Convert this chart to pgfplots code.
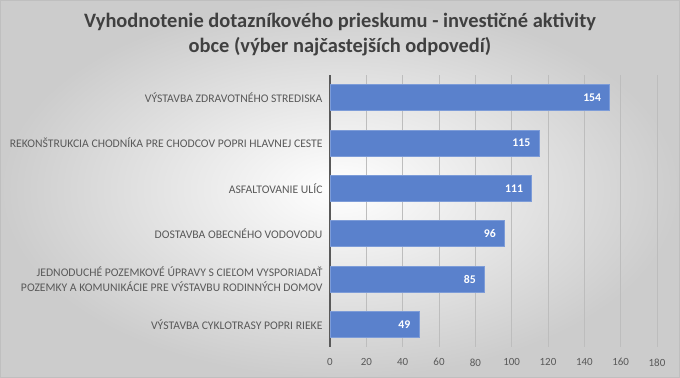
\documentclass[border=0pt]{standalone}
\usepackage{pgfplots}
\pgfplotsset{compat=1.18}
\usepackage{fontspec}
\setmainfont{Carlito}
\definecolor{barblue}{HTML}{5A81CC}
\definecolor{baredge}{HTML}{7D9CD8}
\definecolor{txtgray}{HTML}{595959}
\definecolor{titlegray}{HTML}{404040}
\definecolor{gridgray}{HTML}{BDBDBD}
\begin{document}
\begin{tikzpicture}
\shade[inner color=white, outer color=black!20] (0,0) rectangle (680bp,378bp);
\draw[black!25, line width=0.8bp] (0.4bp,0.4bp) rectangle (679.6bp,377.6bp);
\node[font=\fontsize{20.5}{25}\selectfont\bfseries, text=titlegray, align=center] at (340bp,343bp)
  {Vyhodnotenie dotazníkového prieskumu - investičné aktivity\\obce (výber najčastejších odpovedí)};
\begin{axis}[
  at={(330bp,31bp)}, anchor=south west, scale only axis,
  width=327bp, height=272bp,
  xbar, bar width=26bp,
  xmin=0, xmax=180, ymin=-0.5, ymax=5.5, y dir=reverse,
  xtick={0,20,...,180}, ytick={0,1,2,3,4,5},
  yticklabels={VÝSTAVBA ZDRAVOTNÉHO STREDISKA,
    REKONŠTRUKCIA CHODNÍKA PRE CHODCOV POPRI HLAVNEJ CESTE,
    ASFALTOVANIE ULÍC,
    DOSTAVBA OBECNÉHO VODOVODU,
    {JEDNODUCHÉ POZEMKOVÉ ÚPRAVY S CIEĽOM VYSPORIADAŤ\\POZEMKY A KOMUNIKÁCIE PRE VÝSTAVBU RODINNÝCH DOMOV},
    VÝSTAVBA CYKLOTRASY POPRI RIEKE},
  axis x line*=bottom, axis y line*=left,
  x axis line style={draw=none},
  y axis line style={draw=txtgray, line width=1.3bp},
  major tick length=0pt,
  xmajorgrids, grid style={draw=gridgray, line width=0.8bp},
  yticklabel style={font=\fontsize{11.7}{15}\selectfont, text=txtgray, align=right, xshift=-4bp},
  xticklabel style={font=\fontsize{11}{13}\selectfont, text=txtgray, yshift=-8bp},
  /pgf/number format/assume math mode=true,
  nodes near coords,
  nodes near coords style={font=\fontsize{11.8}{13}\selectfont\bfseries, text=white, anchor=east, xshift=-5bp},
  every node near coord/.append style={anchor=east},
]
\addplot[fill=barblue, draw=baredge, line width=0.6bp] coordinates {
  (154,0) (115,1) (111,2) (96,3) (85,4) (49,5)};
\end{axis}
\end{tikzpicture}
\end{document}
